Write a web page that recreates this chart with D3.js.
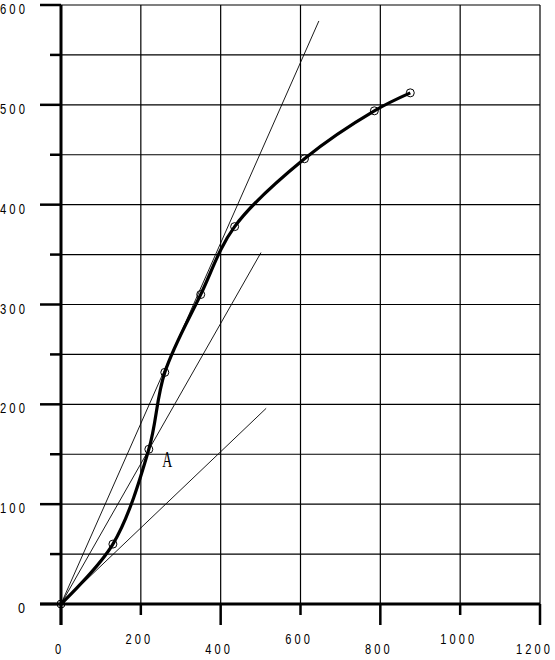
<!DOCTYPE html>
<html>
<head>
<meta charset="utf-8">
<script src="https://cdn.jsdelivr.net/npm/d3@7"></script>
<style>
  body { margin: 0; background: #fff; }
  svg { display: block; }
</style>
</head>
<body>
<svg id="chart" width="555" height="660"></svg>
<script>
// measured curve points
var loadX = [0, 130, 220, 260, 350, 435, 610, 785, 875];
var loadY = [0, 60, 155, 232, 310, 378, 446, 494, 512];

// thin reference lines from origin (end points)
var refEndX = [646, 501, 514];
var refEndY = [584, 352, 196];

var xTicks = [0, 200, 400, 600, 800, 1000, 1200];
var yTicks = [0, 100, 200, 300, 400, 500, 600];
var yMinor = [50, 150, 250, 350, 450, 550];

var svg = d3.select("#chart");
var plotLeft = 61, plotRight = 540, plotTop = 5, plotBottom = 604;

var x = d3.scaleLinear().domain([0, 1200]).range([plotLeft, plotRight]);
var y = d3.scaleLinear().domain([0, 600]).range([plotBottom, plotTop]);

var g = svg.append("g");

// grid
g.selectAll("line.vgrid")
    .data(xTicks.slice(1))
    .enter().append("line")
    .attr("x1", function(d) { return x(d); })
    .attr("x2", function(d) { return x(d); })
    .attr("y1", y(0)).attr("y2", y(600))
    .attr("stroke", "#000").attr("stroke-width", 1.2);

g.selectAll("line.hgrid")
    .data(yTicks.slice(1).concat(yMinor))
    .enter().append("line")
    .attr("x1", x(0)).attr("x2", x(1200))
    .attr("y1", function(d) { return y(d); })
    .attr("y2", function(d) { return y(d); })
    .attr("stroke", "#000").attr("stroke-width", 1.2);

// y ticks (long at hundreds, short at fifties)
g.selectAll("line.ytick")
    .data(yTicks.concat(yMinor))
    .enter().append("line")
    .attr("x1", function(d) { return d % 100 === 0 ? 40 : 50; })
    .attr("x2", x(0))
    .attr("y1", function(d) { return y(d); })
    .attr("y2", function(d) { return y(d); })
    .attr("stroke", "#000").attr("stroke-width", 2.5);

// x ticks, alternating long / short
g.selectAll("line.xtick")
    .data(xTicks)
    .enter().append("line")
    .attr("x1", function(d) { return x(d); })
    .attr("x2", function(d) { return x(d); })
    .attr("y1", y(0))
    .attr("y2", function(d, i) { return i % 2 === 0 ? 625 : 615; })
    .attr("stroke", "#000").attr("stroke-width", 2.5);

// axes
g.append("line")
    .attr("x1", 40).attr("x2", x(1200))
    .attr("y1", y(0)).attr("y2", y(0))
    .attr("stroke", "#000").attr("stroke-width", 3);
g.append("line")
    .attr("x1", x(0)).attr("x2", x(0))
    .attr("y1", y(600)).attr("y2", 625)
    .attr("stroke", "#000").attr("stroke-width", 3);

function spaced(v) { return String(v).split("").join(" "); }

// y labels
g.selectAll("text.ylab")
    .data(yTicks)
    .enter().append("text")
    .attr("x", 25)
    .attr("y", function(d) { return y(d) + 9; })
    .attr("text-anchor", "end")
    .attr("font-family", "Liberation Sans, Arial, sans-serif")
    .attr("font-size", 15)
    .attr("textLength", function(d) { return String(d).length * 9 - 2; })
    .attr("lengthAdjust", "spacingAndGlyphs")
    .text(function(d) { return spaced(d); });

// x labels, staggered
g.selectAll("text.xlab")
    .data(xTicks)
    .enter().append("text")
    .attr("x", function(d, i) { return i === xTicks.length - 1 ? x(d) - 7 : x(d) - 3; })
    .attr("y", function(d, i) { return i % 2 === 0 ? 654 : 644; })
    .attr("text-anchor", "middle")
    .attr("font-family", "Liberation Sans, Arial, sans-serif")
    .attr("font-size", 15)
    .attr("textLength", function(d) { return String(d).length * 9.2 - 3; })
    .attr("lengthAdjust", "spacingAndGlyphs")
    .text(function(d) { return spaced(d); });

// reference lines
g.selectAll("line.ref")
    .data(refEndX)
    .enter().append("line")
    .attr("x1", x(0)).attr("y1", y(0))
    .attr("x2", function(d) { return x(d); })
    .attr("y2", function(d, i) { return y(refEndY[i]); })
    .attr("stroke", "#000").attr("stroke-width", 0.9);

// curve
var pts = loadX.map(function(d, i) { return [d, loadY[i]]; });
var line = d3.line()
    .x(function(d) { return x(d[0]); })
    .y(function(d) { return y(d[1]); })
    .curve(d3.curveCatmullRom.alpha(0.5));

g.append("path")
    .datum(pts)
    .attr("d", line)
    .attr("fill", "none")
    .attr("stroke", "#000")
    .attr("stroke-width", 3.2);

g.selectAll("circle.pt")
    .data(pts)
    .enter().append("circle")
    .attr("cx", function(d) { return x(d[0]); })
    .attr("cy", function(d) { return y(d[1]); })
    .attr("r", 4)
    .attr("fill", "none")
    .attr("stroke", "#000")
    .attr("stroke-width", 1);

// label A
g.append("text")
    .attr("x", x(266))
    .attr("y", y(137))
    .attr("text-anchor", "middle")
    .attr("font-family", "Liberation Serif, Times New Roman, serif")
    .attr("font-size", 24)
    .attr("textLength", 10)
    .attr("lengthAdjust", "spacingAndGlyphs")
    .text("A");
</script>
</body>
</html>
